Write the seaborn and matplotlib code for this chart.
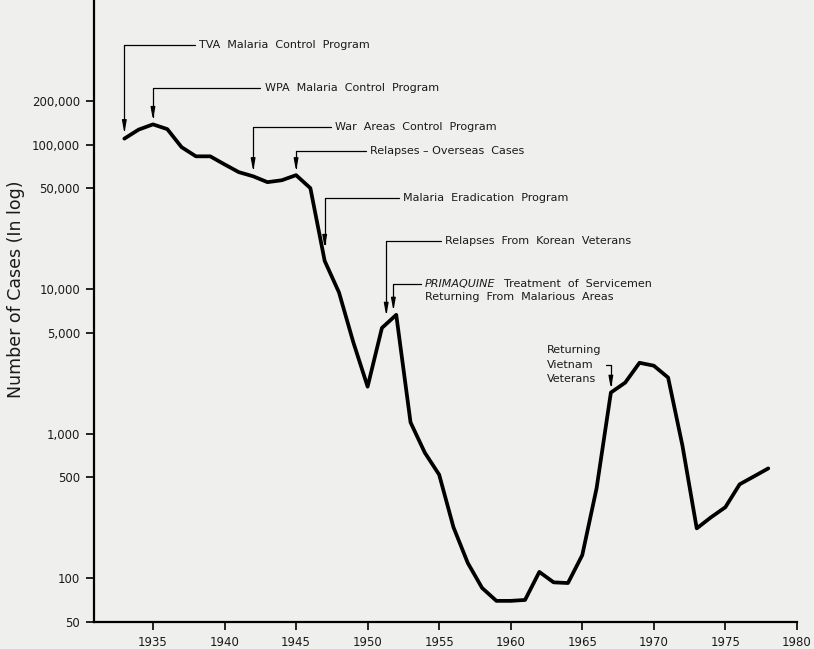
import pandas as pd
import seaborn as sns
import matplotlib.pyplot as plt
from matplotlib.ticker import FixedLocator, NullLocator

# --- Data ---
years = list(range(1933, 1979))
cases = [110000, 127000, 138000, 128000, 96000, 83000, 83000, 73000, 64500, 60400,
         55000, 56700, 61500, 50000, 15700, 9500, 4300, 2120, 5400, 6650,
         1200, 740, 522, 226, 128, 86, 70, 70, 71, 111,
         94, 93, 145, 420, 1930, 2260, 3100, 2960, 2450, 830,
         222, 265, 311, 448, 508, 577]

y_ticks = [50, 100, 500, 1000, 5000, 10000, 50000, 100000, 200000]
y_tick_labels = ["50", "100", "500", "1,000", "5,000", "10,000", "50,000", "100,000", "200,000"]
x_ticks = [1935, 1940, 1945, 1950, 1955, 1960, 1965, 1970, 1975, 1980]

# annotations: label, year pointed at, arrow tip value, text x (year), text y (value)
events = [
    ("TVA  Malaria  Control  Program", 1933, 120000, 1938.2, 490000),
    ("WPA  Malaria  Control  Program", 1935, 148000, 1942.8, 245000),
    ("War  Areas  Control  Program", 1942, 65500, 1947.7, 132000),
    ("Relapses \u2013 Overseas  Cases", 1945, 65500, 1950.2, 90000),
    ("Malaria  Eradication  Program", 1947, 19300, 1952.45, 42700),
    ("Relapses  From  Korean  Veterans", 1951.3, 6550, 1955.4, 21500),
]

df = pd.DataFrame({"year": years, "cases": cases})

# --- Style ---
sns.set_theme(style="ticks")
plt.rcParams["font.family"] = ["DejaVu Sans"]
bg = "#efefed"

fig = plt.figure(figsize=(8.14, 6.49), dpi=100, facecolor=bg)
ax = fig.add_axes([0.1155, 0.0416, 0.979 - 0.1155, 1 - 0.0416])
ax.set_facecolor(bg)

sns.lineplot(data=df, x="year", y="cases", ax=ax, color="black", linewidth=2.7)

ax.set_yscale("log")
ax.set_ylim(50, 1.0e6)
ax.set_xlim(1930.88, 1980)

ax.yaxis.set_major_locator(FixedLocator(y_ticks))
ax.yaxis.set_minor_locator(NullLocator())
ax.set_yticklabels(y_tick_labels)
ax.set_xticks(x_ticks)
ax.tick_params(axis="both", direction="out", length=6, width=1.2, colors="black",
               labelsize=8.5, pad=4)
for lab in ax.get_xticklabels() + ax.get_yticklabels():
    lab.set_color("#1a1a1a")

sns.despine(ax=ax, top=True, right=True)
for side in ("left", "bottom"):
    ax.spines[side].set_linewidth(1.6)
    ax.spines[side].set_color("black")

ax.set_xlabel("")
ax.set_ylabel("Number of Cases (In log)", fontsize=12.5, color="#1a1a1a", labelpad=8)
ax.yaxis.set_label_coords(-0.098, 0.535)

arrow_kw = dict(arrowstyle="-|>,head_length=0.6,head_width=0.11", color="black", lw=0.9,
                connectionstyle="angle,angleA=0,angleB=90,rad=0", shrinkA=3, shrinkB=0)
text_kw = dict(fontsize=8, color="#1a1a1a", va="center", ha="left")

for label, yr, tip, tx, ty in events:
    t = ax.text(tx, ty, label, **text_kw)
    ax.annotate("", xy=(yr, tip), xycoords="data", xytext=(0, 0.5), textcoords=t,
                arrowprops=arrow_kw)

# Primaquine note (mixed italic)
t1 = ax.text(1954.0, 10900, "PRIMAQUINE", style="italic", **text_kw)
ax.annotate("Treatment  of  Servicemen", xy=(1, 0.5), xycoords=t1, xytext=(6, 0),
            textcoords="offset points", **text_kw)
ax.annotate("Returning  From  Malarious  Areas", xy=(0, 0), xycoords=t1, xytext=(0, -2),
            textcoords="offset points", fontsize=8, color="#1a1a1a", va="top", ha="left")
ax.annotate("", xy=(1951.8, 7100), xycoords="data", xytext=(0, 0.5), textcoords=t1,
            arrowprops=arrow_kw)

# Vietnam note
t2 = ax.text(1962.56, 3010, "Returning\nVietnam\nVeterans", linespacing=1.6, **text_kw)
ax.annotate("", xy=(1967, 2050), xycoords="data", xytext=(1, 0.5), textcoords=t2,
            arrowprops=arrow_kw)

fig.savefig("out.png", dpi=100, facecolor=bg)
